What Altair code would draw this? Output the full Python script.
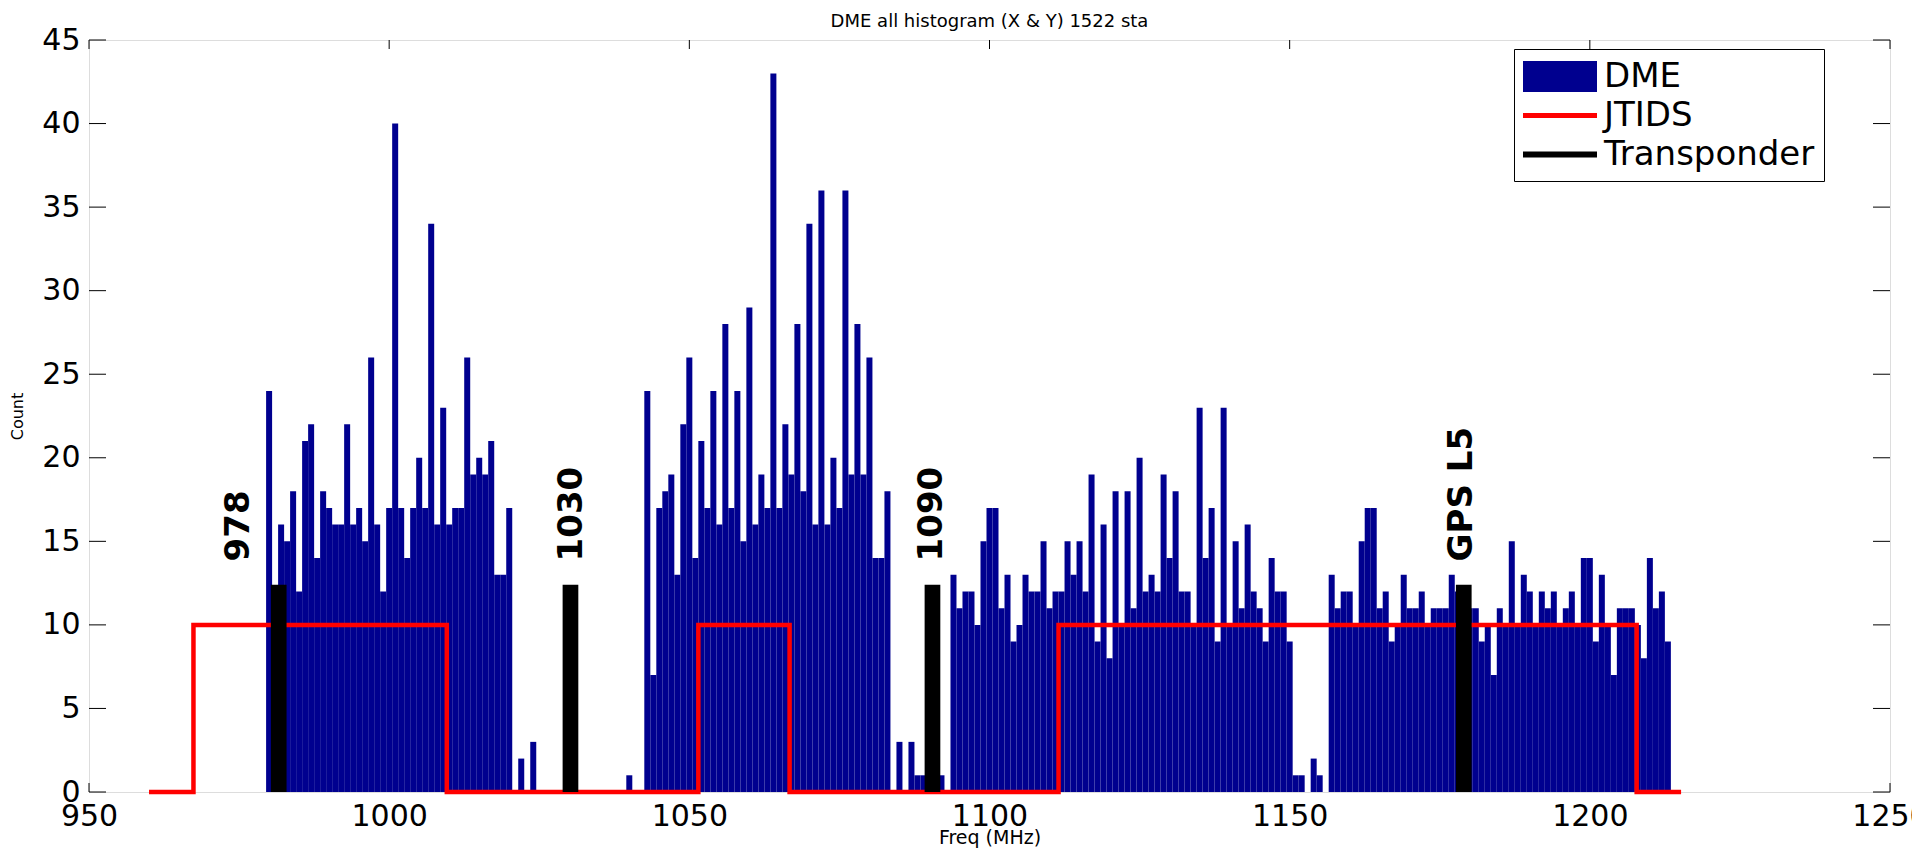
import altair as alt
import pandas as pd

# ---------------- data ----------------
# DME histogram: 1 MHz bins, bin centres 980 ... 1213 MHz
freq = list(range(980, 1214))
counts = [
    # 980-1013
    24, 12, 16, 15, 18, 12, 21, 22, 14, 18, 17, 16, 16, 22, 16, 17, 15, 26, 16, 12,
    17, 40, 17, 14, 17, 20, 17, 34, 16, 23, 16, 17, 17, 26,
    # 1014-1054
    19, 20, 19, 21, 13, 13, 17, 0, 2, 0, 3, 0, 0, 0, 0, 0, 0, 0, 0, 0,
    0, 0, 0, 0, 0, 0, 1, 0, 0, 24, 7, 17, 18, 19, 13, 22, 26, 14, 21, 17, 24,
    # 1055-1093
    16, 28, 17, 24, 15, 29, 16, 19, 17, 43, 17, 22, 19, 28, 18, 34, 16, 36, 16, 20,
    17, 36, 19, 28, 19, 26, 14, 14, 18, 0, 3, 0, 3, 1, 1, 1, 1, 1, 0,
    # 1094-1133
    13, 11, 12, 12, 10, 15, 17, 17, 11, 13, 9, 10, 13, 12, 12, 15, 11, 12, 12, 15,
    13, 15, 12, 19, 9, 16, 8, 18, 10, 18, 11, 20, 12, 13, 12, 19, 14, 18, 12, 12,
    # 1134-1173
    10, 23, 14, 17, 9, 23, 10, 15, 11, 16, 12, 11, 9, 14, 12, 12, 9, 1, 1, 0,
    2, 1, 0, 13, 11, 12, 12, 10, 15, 17, 17, 11, 12, 9, 10, 13, 11, 11, 12, 10,
    # 1174-1213
    11, 11, 11, 13, 12, 11, 11, 11, 9, 10, 7, 11, 10, 15, 10, 13, 12, 10, 12, 11,
    12, 10, 11, 12, 10, 14, 14, 9, 13, 10, 7, 11, 11, 11, 10, 8, 14, 11, 12, 9,
]

# JTIDS band outline (step curve)
jtids_freq = [960, 967.4, 1009.6, 1051.5, 1066.7, 1111.5, 1207.8, 1215.2]
jtids_level = [0, 10, 0, 10, 0, 10, 0, 0]

# Transponder / marker bars and their labels
marker_freq = [981.6, 1030.2, 1090.5, 1179.0]
marker_top = [12.4, 12.4, 12.4, 12.4]
label_text = ["978", "1030", "1090", "GPS L5"]
label_freq = [975.0, 1030.5, 1090.5, 1178.7]
label_base = [13.8, 13.8, 13.8, 13.8]

x_ticks = [950, 1000, 1050, 1100, 1150, 1200, 1250]
y_ticks = [0, 5, 10, 15, 20, 25, 30, 35, 40, 45]

series = ["DME", "JTIDS", "Transponder"]
series_colors = ["#00008F", "#FF0000", "#000000"]
# legend swatches: wide box for DME, thick lines for the others
series_shapes = ["M-1,-0.84H3V0.84H-1Z", "M-1,-0.13H3V0.13H-1Z", "M-1,-0.16H3V0.16H-1Z"]

# ---------------- chart ----------------
W, H = 1801, 752
FONT = "DejaVu Sans"
XT, YT = 9, 17  # inward tick lengths (px)

dme = pd.DataFrame({"freq": freq, "count": counts})
dme["lo"] = dme["freq"] - 0.5
dme["hi"] = dme["freq"] + 0.5
jt = pd.DataFrame({"freq": jtids_freq, "level": jtids_level})
mk = pd.DataFrame({"freq": marker_freq, "top": marker_top})
lb = pd.DataFrame({"freq": label_freq, "y": label_base, "text": label_text})
lg = pd.DataFrame({"series": series})
xt = pd.DataFrame({"t": x_ticks})
yt = pd.DataFrame({"t": y_ticks})

xs = alt.Scale(domain=[950, 1250], nice=False, zero=False)
ys = alt.Scale(domain=[0, 45], nice=False, zero=True)

main_x = alt.Axis(
    orient="bottom", values=x_ticks, format="d", grid=False, domain=False,
    ticks=False, labelFont=FONT, labelFontSize=30, labelColor="black",
    labelPadding=9, labelFlush=False, labelOverlap=False, labelBound=False,
    title="Freq (MHz)", titleFont=FONT, titleFontSize=19, titleFontWeight="normal",
    titleColor="black", titleY=45, titleBaseline="middle",
)
main_y = alt.Axis(
    orient="left", values=y_ticks, format="d", grid=False, domain=False,
    ticks=False, labelFont=FONT, labelFontSize=30, labelColor="black",
    labelPadding=9, labelFlush=False, labelOverlap=False, labelBound=False,
    title="Count", titleFont=FONT, titleFontSize=16, titleFontWeight="normal",
    titleColor="black", titleX=-72, titleY=H / 2, titleAngle=270,
    titleAlign="center", titleBaseline="middle",
)

# inward tick marks on all four sides of the frame
tick_rule = dict(color="black", strokeWidth=1)
tick_bottom = alt.Chart(xt).mark_rule(**tick_rule).encode(
    x=alt.X("t:Q", scale=xs, axis=None), y=alt.value(H), y2=alt.value(H - XT))
tick_top = alt.Chart(xt).mark_rule(**tick_rule).encode(
    x=alt.X("t:Q", scale=xs, axis=None), y=alt.value(0), y2=alt.value(XT))
tick_left = alt.Chart(yt).mark_rule(**tick_rule).encode(
    y=alt.Y("t:Q", scale=ys, axis=None), x=alt.value(0), x2=alt.value(YT))
tick_right = alt.Chart(yt).mark_rule(**tick_rule).encode(
    y=alt.Y("t:Q", scale=ys, axis=None), x=alt.value(W - YT), x2=alt.value(W))

bars = alt.Chart(dme).mark_bar(color=series_colors[0], stroke=None).encode(
    x=alt.X("lo:Q", scale=xs, axis=main_x),
    x2="hi:Q",
    y=alt.Y("count:Q", scale=ys, axis=main_y),
    y2=alt.datum(0),
)

jtids = alt.Chart(jt).mark_line(interpolate="step-after", strokeWidth=4.5,
                                color=series_colors[1], clip=False).encode(
    x=alt.X("freq:Q", scale=xs, axis=None),
    y=alt.Y("level:Q", scale=ys, axis=None),
)

markers = alt.Chart(mk).mark_rule(strokeWidth=15.7, strokeCap="butt",
                                  color=series_colors[2]).encode(
    x=alt.X("freq:Q", scale=xs, axis=None),
    y=alt.Y("top:Q", scale=ys, axis=None),
    y2=alt.datum(0),
)

labels = alt.Chart(lb).mark_text(
    angle=270, align="left", baseline="middle", font=FONT, fontSize=34,
    fontWeight="bold", color="black",
).encode(
    x=alt.X("freq:Q", scale=xs, axis=None),
    y=alt.Y("y:Q", scale=ys, axis=None),
    text="text:N",
)

legend = alt.Legend(
    title=None, orient="none", legendX=1425, legendY=9,
    labelFont=FONT, labelFontSize=34, labelColor="black", labelOffset=44,
    labelLimit=400, symbolSize=1369, symbolStrokeWidth=0, symbolOpacity=1,
    padding=9, rowPadding=3, strokeColor="black", fillColor="white",
)

# legend-only layer: zero-size points, nothing visible in the plot
legend_layer = alt.Chart(lg).mark_point(filled=True, size=0, opacity=1).encode(
    x=alt.value(0),
    y=alt.value(0),
    color=alt.Color("series:N", scale=alt.Scale(domain=series, range=series_colors),
                    legend=legend),
    shape=alt.Shape("series:N", scale=alt.Scale(domain=series, range=series_shapes),
                    legend=legend),
)

chart = alt.layer(
    tick_bottom, tick_top, tick_left, tick_right,
    bars, jtids, markers, labels, legend_layer,
).resolve_axis(
    x="independent", y="independent"
).properties(
    width=W, height=H,
    title=alt.TitleParams("DME all histogram (X & Y) 1522 sta", font=FONT, fontSize=18,
                          fontWeight="normal", color="black", anchor="middle",
                          baseline="bottom", offset=3, dy=27),
    autosize=alt.AutoSizeParams(type="none"),
    padding={"left": 81, "top": 32, "right": 22, "bottom": 56},
).configure_view(stroke="black", strokeWidth=1.5).configure(background="white")

chart.save("out.html", embed_options={"renderer": "svg", "actions": False})
